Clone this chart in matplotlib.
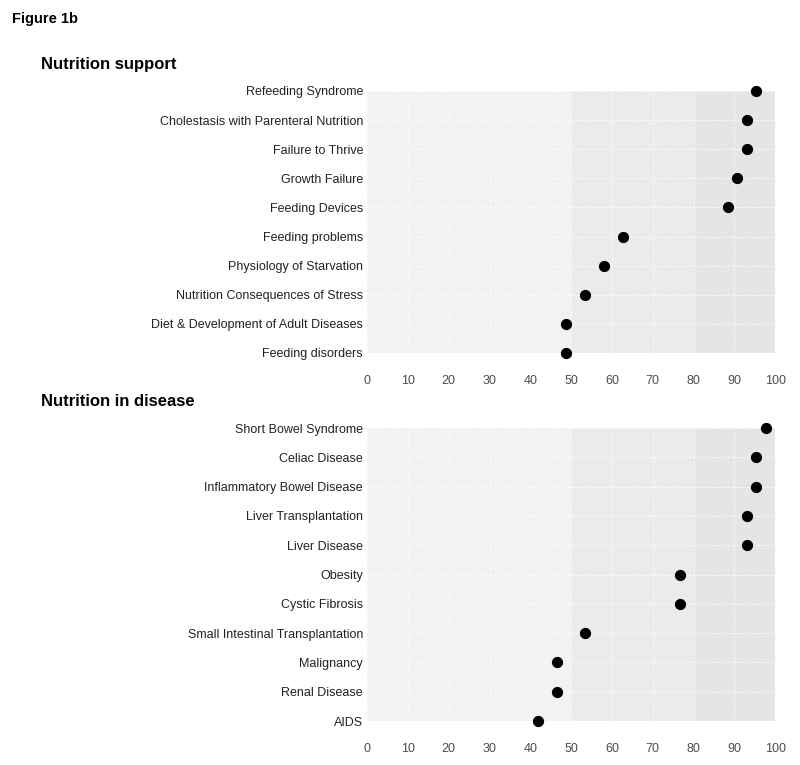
import matplotlib
matplotlib.use("Agg")
import matplotlib.pyplot as plt

plt.rcParams["font.family"] = ["Liberation Sans", "DejaVu Sans"]

# --- datos (percent of respondents) ---
support_labels = [
    "Refeeding Syndrome",
    "Cholestasis with Parenteral Nutrition",
    "Failure to Thrive",
    "Growth Failure",
    "Feeding Devices",
    "Feeding problems",
    "Physiology of Starvation",
    "Nutrition Consequences of Stress",
    "Diet & Development of Adult Diseases",
    "Feeding disorders",
]
support_values = [95.3, 93.0, 93.0, 90.7, 88.4, 62.8, 58.1, 53.5, 48.8, 48.8]

disease_labels = [
    "Short Bowel Syndrome",
    "Celiac Disease",
    "Inflammatory Bowel Disease",
    "Liver Transplantation",
    "Liver Disease",
    "Obesity",
    "Cystic Fibrosis",
    "Small Intestinal Transplantation",
    "Malignancy",
    "Renal Disease",
    "AIDS",
]
disease_values = [97.7, 95.3, 95.3, 93.0, 93.0, 76.7, 76.7, 53.5, 46.5, 46.5, 41.9]

x_ticks = list(range(0, 101, 10))
bands = [(0, 50, "#f2f2f2"), (50, 80, "#ebebeb"), (80, 100, "#e5e5e5")]


def dot_panel(ax, labels, values):
    n = len(labels)
    ypos = list(range(n))
    for lo, hi, col in bands:
        ax.axvspan(lo, hi, color=col, lw=0, zorder=0)
    # grid blanco punteado, suave
    for x in x_ticks:
        ax.axvline(x, color="white", lw=0.7, ls=(0, (3, 2)), alpha=0.75, zorder=1)
    for y in ypos:
        ax.axhline(y, color="white", lw=0.7, ls=(0, (3, 2)), alpha=0.75, zorder=1)
    ax.scatter(values, ypos, s=50, color="black", zorder=3, clip_on=False)
    ax.set_xlim(0, 100)
    ax.set_ylim(n - 1, 0)
    ax.set_yticks(ypos)
    ax.set_yticklabels(labels, fontsize=9, color="#222222")
    ax.set_xticks(x_ticks)
    ax.set_xticklabels([str(t) for t in x_ticks], fontsize=9, color="#4d4d4d")
    ax.tick_params(length=0, pad=3)
    ax.tick_params(axis="x", pad=16)
    for s in ax.spines.values():
        s.set_visible(False)


fig = plt.figure(figsize=(8, 7.65), dpi=100)
fig.patch.set_facecolor("white")

ax1 = fig.add_axes([0.459, 0.5386, 0.51, 0.3425])
ax2 = fig.add_axes([0.459, 0.0575, 0.51, 0.383])
dot_panel(ax1, support_labels, support_values)
dot_panel(ax2, disease_labels, disease_values)

fig.text(12 / 800, 1 - 19 / 765, "Figure 1b", fontsize=10.5, fontweight="bold", va="center")
fig.text(41 / 800, 1 - 65 / 765, "Nutrition support", fontsize=12, fontweight="bold", va="center")
fig.text(41 / 800, 1 - 402 / 765, "Nutrition in disease", fontsize=12, fontweight="bold", va="center")

fig.savefig("out.png", dpi=100, facecolor="white")
